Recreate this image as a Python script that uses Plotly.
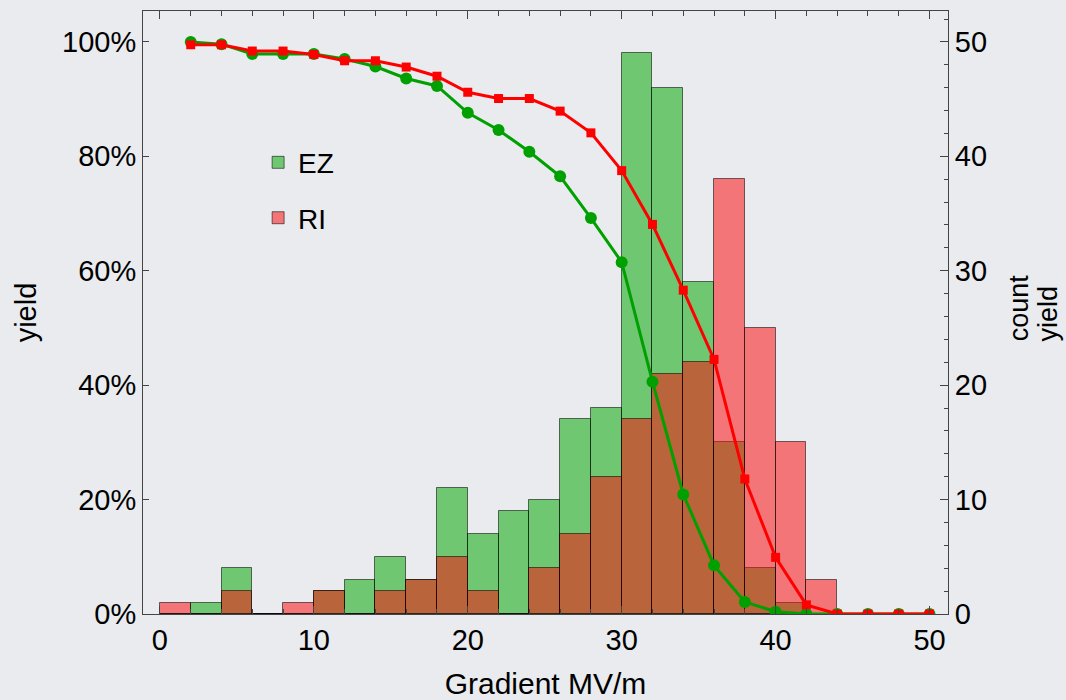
import plotly.graph_objects as go

# Histogram bins (centers of 2 MV/m bins) and counts
bin_centers = [1, 3, 5, 7, 9, 11, 13, 15, 17, 19, 21, 23, 25, 27, 29, 31, 33, 35, 37, 39, 41, 43]
ez_counts = [0, 1, 4, 0, 0, 2, 3, 5, 3, 11, 7, 9, 10, 17, 18, 49, 46, 29, 15, 4, 1, 0]
ri_counts = [1, 0, 2, 0, 1, 2, 0, 2, 3, 5, 2, 0, 4, 7, 12, 17, 21, 22, 38, 25, 15, 3]

# Yield curves
yield_x = [2, 4, 6, 8, 10, 12, 14, 16, 18, 20, 22, 24, 26, 28, 30, 32, 34, 36, 38, 40, 42, 44, 46, 48, 50]
ez_yield = [1.000, 0.996, 0.979, 0.979, 0.979, 0.970, 0.957, 0.936, 0.923, 0.876, 0.846, 0.808, 0.765,
            0.692, 0.615, 0.406, 0.209, 0.085, 0.021, 0.004, 0.0, 0.0, 0.0, 0.0, 0.0]
ri_yield = [0.995, 0.995, 0.984, 0.984, 0.978, 0.967, 0.967, 0.956, 0.940, 0.912, 0.901, 0.901, 0.879,
            0.841, 0.775, 0.681, 0.566, 0.445, 0.236, 0.099, 0.016, 0.0, 0.0, 0.0, 0.0]

right_title_lines = ["count", "yield"]

BG = "#e9ebee"
FONT = "Liberation Sans, Arial, Helvetica, sans-serif"
AX = "#444444"

fig = go.Figure()
fig.add_trace(go.Bar(x=bin_centers, y=ez_counts, width=2, name="EZ", yaxis="y",
                     marker=dict(color="rgba(0,167,0,0.52)", line=dict(color="rgba(0,0,0,0.55)", width=1)),
                     legendgroup="ez"))
fig.add_trace(go.Bar(x=bin_centers, y=ri_counts, width=2, name="RI", yaxis="y",
                     marker=dict(color="rgba(255,10,10,0.52)", line=dict(color="rgba(0,0,0,0.55)", width=1)),
                     legendgroup="ri"))
fig.add_trace(go.Scatter(x=yield_x, y=ez_yield, mode="lines+markers", yaxis="y2", showlegend=False,
                         line=dict(color="#00a000", width=3),
                         marker=dict(symbol="circle", size=12, color="#00a000")))
fig.add_trace(go.Scatter(x=yield_x, y=ri_yield, mode="lines+markers", yaxis="y2", showlegend=False,
                         line=dict(color="#ff0000", width=3),
                         marker=dict(symbol="square", size=9, color="#ff0000")))

fig.update_layout(
    width=1066, height=700,
    margin=dict(l=143, r=118, t=11, b=86, autoexpand=False),
    paper_bgcolor=BG, plot_bgcolor=BG,
    font=dict(family=FONT, size=29, color="black"),
    barmode="overlay", bargap=0,
    showlegend=True,
    legend=dict(x=0.143, y=0.79, xanchor="left", yanchor="top", bgcolor="rgba(0,0,0,0)",
                font=dict(size=28), tracegroupgap=16, traceorder="grouped"),
    xaxis=dict(range=[-1.1, 51.2], tickmode="linear", tick0=0, dtick=10, ticks="inside", ticklen=8,
               tickcolor=AX, showline=True, linecolor=AX, linewidth=1, mirror="ticks",
               showgrid=False, zeroline=False, automargin=False,
               minor=dict(ticks="inside", dtick=2, ticklen=5, tickcolor=AX, showgrid=False),
               title=dict(text="Gradient MV/m", font=dict(size=30), standoff=20)),
    yaxis=dict(side="right", range=[0, 52.7], tickmode="linear", tick0=0, dtick=10, ticks="inside",
               ticklen=8, tickcolor=AX, showline=True, linecolor=AX, linewidth=1,
               showgrid=False, zeroline=False, automargin=False,
               minor=dict(ticks="inside", dtick=2, ticklen=4, tickcolor=AX, showgrid=False)),
    yaxis2=dict(side="left", overlaying="y", range=[0, 1.054], tickmode="linear", tick0=0, dtick=0.2,
                tickformat=".0%", ticks="inside", ticklen=6, tickcolor=AX, showline=True,
                linecolor=AX, linewidth=1, showgrid=False, zeroline=False, automargin=False,
                title=dict(text="yield", font=dict(size=29), standoff=16)),
)

# Two-line right axis title, stacked tightly as in the reference
for txt, xp in zip(right_title_lines, [1.0875, 1.1245]):
    fig.add_annotation(text=txt, textangle=-90, xref="paper", yref="paper", x=xp, y=0.449,
                       xanchor="center", yanchor="bottom", showarrow=False,
                       font=dict(size=27, family=FONT, color="black"))

fig.write_html("out.html")
